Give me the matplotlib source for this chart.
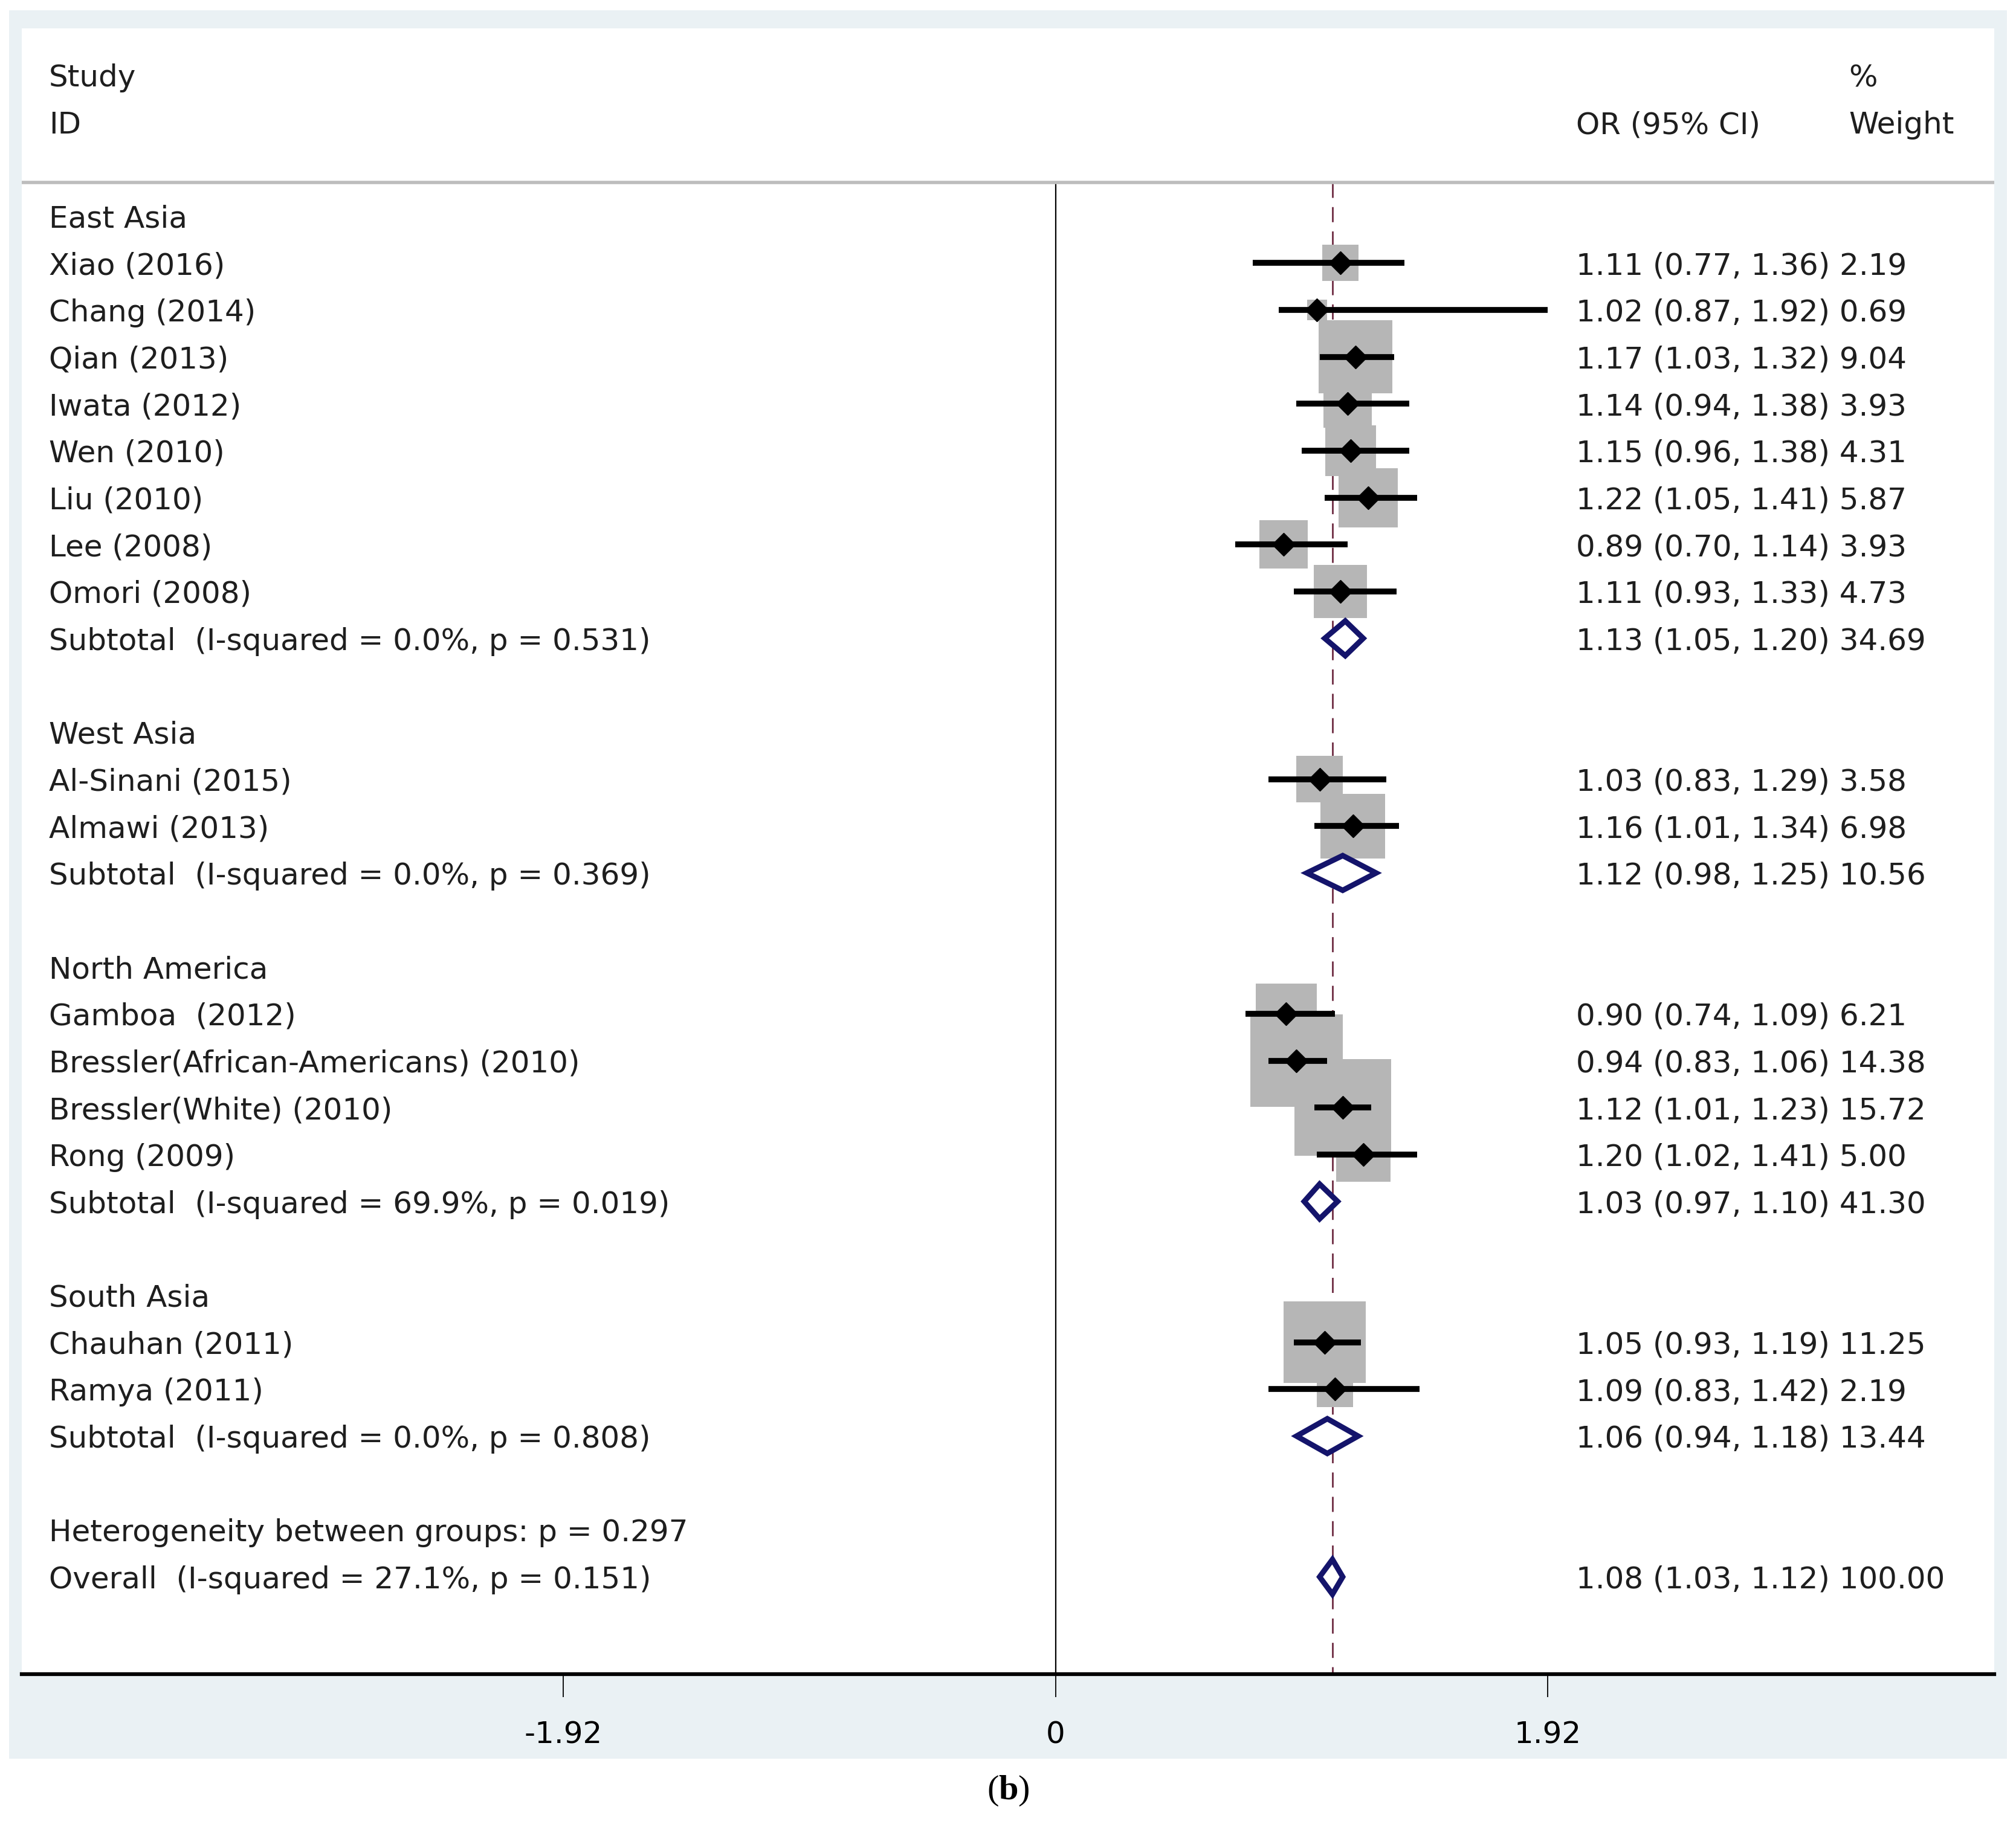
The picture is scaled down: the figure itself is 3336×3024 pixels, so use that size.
import numpy as np
import matplotlib
matplotlib.use('Agg')
import matplotlib.pyplot as plt
import matplotlib.transforms as mtransforms
from matplotlib.patches import Rectangle, Polygon

plt.rcParams['font.family'] = ['DejaVu Sans']
plt.rcParams['mathtext.fontset'] = 'custom'
plt.rcParams['mathtext.rm'] = 'Liberation Serif'
plt.rcParams['mathtext.bf'] = 'Liberation Serif:bold'
plt.rcParams['lines.scale_dashes'] = False

# data
groups = ['East Asia', 'West Asia', 'North America', 'South Asia']

studies = [
    ['Xiao (2016)', 'Chang (2014)', 'Qian (2013)', 'Iwata (2012)',
     'Wen (2010)', 'Liu (2010)', 'Lee (2008)', 'Omori (2008)'],
    ['Al-Sinani (2015)', 'Almawi (2013)'],
    ['Gamboa  (2012)', 'Bressler(African-Americans) (2010)',
     'Bressler(White) (2010)', 'Rong (2009)'],
    ['Chauhan (2011)', 'Ramya (2011)'],
]
or_vals = [
    [1.11, 1.02, 1.17, 1.14, 1.15, 1.22, 0.89, 1.11],
    [1.03, 1.16],
    [0.90, 0.94, 1.12, 1.20],
    [1.05, 1.09],
]
ci_low = [
    [0.77, 0.87, 1.03, 0.94, 0.96, 1.05, 0.70, 0.93],
    [0.83, 1.01],
    [0.74, 0.83, 1.01, 1.02],
    [0.93, 0.83],
]
ci_high = [
    [1.36, 1.92, 1.32, 1.38, 1.38, 1.41, 1.14, 1.33],
    [1.29, 1.34],
    [1.09, 1.06, 1.23, 1.41],
    [1.19, 1.42],
]
weights = [
    [2.19, 0.69, 9.04, 3.93, 4.31, 5.87, 3.93, 4.73],
    [3.58, 6.98],
    [6.21, 14.38, 15.72, 5.00],
    [11.25, 2.19],
]

sub_labels = ['Subtotal  (I-squared = 0.0%, p = 0.531)',
              'Subtotal  (I-squared = 0.0%, p = 0.369)',
              'Subtotal  (I-squared = 69.9%, p = 0.019)',
              'Subtotal  (I-squared = 0.0%, p = 0.808)']
sub_or = [1.13, 1.12, 1.03, 1.06]
sub_low = [1.05, 0.98, 0.97, 0.94]
sub_high = [1.20, 1.25, 1.10, 1.18]
sub_weight = [34.69, 10.56, 41.30, 13.44]

het_label = 'Heterogeneity between groups: p = 0.297'
overall_label = 'Overall  (I-squared = 27.1%, p = 0.151)'
overall_or, overall_low, overall_high, overall_weight = 1.08, 1.03, 1.12, 100.00

tick_vals = [-1.92, 0, 1.92]
tick_labels = ['-1.92', '0', '1.92']

TXT = '#1e1e1e'
FS = 36
BOX = '#b6b6b6'
NAVY = '#14146b'
X_LEFT = 0.0137
X_VAL = 0.7881
X_W = 0.9263


def value_text(o, lo, hi, w):
    return '{:.2f} ({:.2f}, {:.2f}) {:.2f}'.format(o, lo, hi, w)


def label(ax, tr, x, row, s):
    ax.text(x, row, s, transform=tr, fontsize=FS, color=TXT, va='center_baseline')


def diamond(ax, row, o, lo, hi):
    h = 0.37
    poly = Polygon([(lo, row), (o, row - h), (hi, row), (o, row + h)],
                   closed=True, facecolor='white', edgecolor=NAVY,
                   linewidth=6.5, joinstyle='miter', zorder=4)
    ax.add_patch(poly)


fig = plt.figure(figsize=(33.36, 30.24), dpi=100)
fig.patch.set_facecolor('white')

# light panel behind the plot
bg = fig.add_axes([0.0045, 0.0373, 0.991, 0.957], zorder=-5)
bg.set_facecolor('#eaf1f4')
bg.set_xticks([])
bg.set_yticks([])
for s in bg.spines.values():
    s.set_visible(False)

ax = fig.add_axes([0.01084, 0.08374, 0.97832, 0.90078], zorder=1)
ax.set_facecolor('white')
ax.set_xlim(-4.03, 3.66)
ax.set_ylim(31.07, -4.0)
for s in ['top', 'left', 'right']:
    ax.spines[s].set_visible(False)
ax.spines['bottom'].set_linewidth(4.5)
ax.set_yticks([])
ax.set_xticks(tick_vals)
ax.set_xticklabels(tick_labels)
ax.tick_params(axis='x', direction='out', length=27, width=1.3,
               pad=28, labelsize=FS, colors='black')

tr = mtransforms.blended_transform_factory(ax.transAxes, ax.transData)

# header
label(ax, tr, X_LEFT, -3, 'Study')
label(ax, tr, X_LEFT, -2, 'ID')
label(ax, tr, X_VAL, -2, 'OR (95% CI)')
label(ax, tr, X_W, -3, '%')
label(ax, tr, X_W, -2, 'Weight')
ax.plot([0, 1], [-0.71, -0.71], transform=tr, color='#bdbdbd', lw=4,
        solid_capstyle='butt', clip_on=False)

# reference lines
ax.plot([0, 0], [-0.71, 31.07], color='black', lw=1.6, zorder=1)
ax.plot([overall_or, overall_or], [-0.71, 31.07], color='#6e2c42', lw=2,
        dashes=(18, 11), zorder=1)

row = 0
for g in range(len(groups)):
    label(ax, tr, X_LEFT, row, groups[g])
    row += 1
    for i in range(len(studies[g])):
        o, lo, hi, w = or_vals[g][i], ci_low[g][i], ci_high[g][i], weights[g][i]
        sx = 0.0952 * np.sqrt(w)
        sy = 0.5205 * np.sqrt(w)
        ax.add_patch(Rectangle((o - sx / 2, row - sy / 2), sx, sy,
                               facecolor=BOX, edgecolor='none', zorder=2))
        ax.plot([lo, hi], [row, row], color='black', lw=7,
                solid_capstyle='butt', zorder=3)
        ax.plot(o, row, marker='D', color='black', markersize=19, zorder=4)
        label(ax, tr, X_LEFT, row, studies[g][i])
        label(ax, tr, X_VAL, row, value_text(o, lo, hi, w))
        row += 1
    diamond(ax, row, sub_or[g], sub_low[g], sub_high[g])
    label(ax, tr, X_LEFT, row, sub_labels[g])
    label(ax, tr, X_VAL, row, value_text(sub_or[g], sub_low[g], sub_high[g], sub_weight[g]))
    row += 2

label(ax, tr, X_LEFT, row, het_label)
row += 1
diamond(ax, row, overall_or, overall_low, overall_high)
label(ax, tr, X_LEFT, row, overall_label)
label(ax, tr, X_VAL, row, value_text(overall_or, overall_low, overall_high, overall_weight))

# panel caption
fig.text(0.5, 0.0197, r'($\mathbf{b}$)', ha='center', va='center',
         fontsize=42, family='Liberation Serif', color='black')

fig.savefig('out.png', dpi=100, facecolor='white')
